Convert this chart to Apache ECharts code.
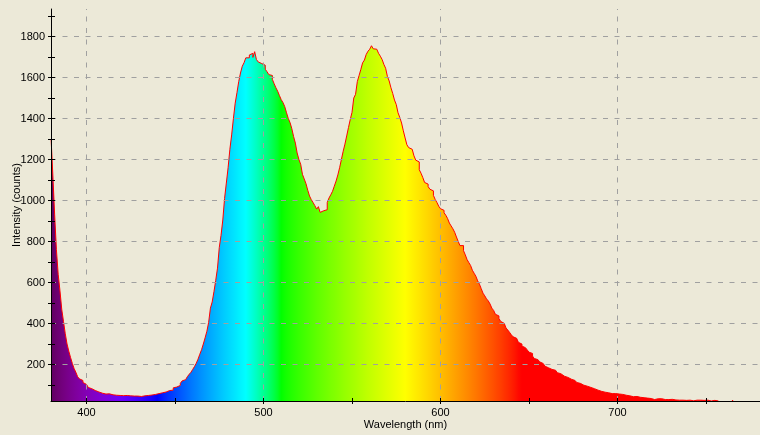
<!DOCTYPE html>
<html>
<head>
<meta charset="utf-8">
<script src="https://cdn.jsdelivr.net/npm/echarts@6/dist/echarts.min.js"></script>
<style>
html,body{margin:0;padding:0;background:#ECE9D8;}
#chart{width:760px;height:435px;}
</style>
</head>
<body>
<div id="chart"></div>
<script>
// ---- data ----
const wavelengthStart = 380;   // nm, first bin
const wavelengthStep = 1;      // nm per bin
const intensity = [
  1300, 1120, 930, 760, 640, 560, 470, 410, 350, 300,
  265, 234, 205, 180, 162, 140, 130, 122, 112, 103,
  96, 88, 82, 77, 73, 68, 66, 63, 60, 58,
  56, 55, 57, 54, 52, 53, 50, 51, 49, 50,
  48, 47, 49, 46, 47, 45, 46, 44, 46, 45,
  44, 46, 47, 48, 49, 50, 51, 53, 54, 56,
  58, 60, 62, 64, 66, 70, 73, 77, 75, 86,
  90, 94, 98, 108, 120, 126, 133, 141, 152, 162,
  176, 190, 206, 226, 250, 272, 300, 330, 362, 405,
  475, 505, 555, 610, 670, 770, 830, 905, 1010, 1085,
  1160, 1250, 1320, 1400, 1475, 1526, 1580, 1622, 1655, 1672,
  1696, 1696, 1710, 1718, 1698, 1726, 1688, 1676, 1668, 1672,
  1660, 1640, 1628, 1614, 1610, 1591, 1570, 1550, 1533, 1512,
  1492, 1478, 1458, 1428, 1400, 1380, 1350, 1312, 1280, 1232,
  1200, 1177, 1128, 1105, 1082, 1050, 1022, 1004, 990, 975,
  958, 970, 942, 950, 950, 955, 990, 1012, 1028, 1045,
  1070, 1095, 1125, 1160, 1200, 1240, 1275, 1315, 1356, 1395,
  1430, 1500, 1518, 1580, 1610, 1640, 1672, 1685, 1712, 1728,
  1738, 1755, 1740, 1738, 1736, 1718, 1704, 1688, 1664, 1645,
  1605, 1583, 1550, 1522, 1490, 1468, 1428, 1405, 1378, 1340,
  1305, 1272, 1258, 1250, 1242, 1218, 1197, 1188, 1150, 1133,
  1112, 1088, 1080, 1068, 1055, 1047, 1025, 1005, 990, 972,
  960, 952, 940, 928, 912, 890, 876, 862, 845, 822,
  800, 780, 780, 755, 735, 712, 697, 683, 660, 645,
  630, 608, 592, 570, 548, 535, 520, 510, 495, 475,
  464, 445, 437, 425, 410, 401, 395, 378, 368, 357,
  345, 335, 328, 320, 308, 300, 290, 282, 277, 271,
  260, 254, 241, 229, 224, 221, 213, 205, 197, 192,
  184, 178, 176, 169, 172, 164, 160, 155, 146, 143,
  140, 137, 137, 128, 127, 122, 116, 112, 108, 106,
  99, 95, 94, 90, 88, 88, 82, 78, 75, 75,
  69, 66, 65, 63, 62, 60, 58, 62, 58, 61,
  56, 54, 54, 51, 50, 50, 47, 46, 43, 42,
  44, 42, 40, 39, 38, 36, 36, 38, 34, 30,
  29, 34, 33, 34, 33, 31, 29, 30, 29, 31,
  30, 26, 27, 26, 26, 28, 26, 26, 25, 26,
  26, 23, 23, 26, 26, 24, 26, 26, 25, 26,
  26, 21, 22, 26, 25, 26, 22, 18, 5, 5,
  5, 5, 5, 5, 5, 26, 5, 5, 5, 5,
  5, 5, 5, 5, 5, 5, 5, 5, 5, 5, 5
];
const xLabelValues = [400, 500, 600, 700];
const xTickValues = [400, 450, 500, 550, 600, 650, 700, 750];
const yLabelValues = [200, 400, 600, 800, 1000, 1200, 1400, 1600, 1800];
const yTickValues = [100, 200, 300, 400, 500, 600, 700, 800, 900, 1000, 1100, 1200, 1300, 1400, 1500, 1600, 1700, 1800, 1900];
const xMin = 379.94, xMax = 780.5, yMin = 21.95, yMax = 1934.2;

// ---- build ----
const points = intensity.map((v, i) => [wavelengthStart + i * wavelengthStep, v]);
const xLast = wavelengthStart + (intensity.length - 1) * wavelengthStep;

function waveColor(w) {
  let r = 0, g = 0, b = 0;
  if (w < 440) { r = -(w - 440) / 60; b = 1; }
  else if (w < 490) { g = (w - 440) / 50; b = 1; }
  else if (w < 510) { g = 1; b = -(w - 510) / 20; }
  else if (w < 580) { r = (w - 510) / 70; g = 1; }
  else if (w < 645) { r = 1; g = -(w - 645) / 65; }
  else { r = 1; }
  const f = w < 420 ? 0.3 + 0.7 * (w - 380) / 40 : 1;
  const c = v => Math.round(255 * Math.pow(v * f, 0.8));
  return 'rgb(' + c(r) + ',' + c(g) + ',' + c(b) + ')';
}
const stops = [];
for (let w = wavelengthStart; w <= xLast; w += 2) {
  stops.push({ offset: (w - wavelengthStart) / (xLast - wavelengthStart), color: waveColor(w) });
}

const FONT = 'Liberation Sans';
const plain = v => String(v);
const GRID_LINE = { color: '#A0A0A0', width: 1, type: [5, 6.5] };
const chart = echarts.init(document.getElementById('chart'), null, { renderer: 'canvas' });
const gridBox = { left: 51, right: 0, top: 9, bottom: 34, containLabel: false, outerBoundsMode: 'none' };
const tickOnlyX = (gi, inside) => ({
  type: 'value', gridIndex: gi, min: xMin, max: xMax, zlevel: 1, z: 10,
  axisLine: { show: false },
  axisTick: { show: true, inside: inside, length: 3, customValues: xTickValues, lineStyle: { color: '#000' } },
  axisLabel: { show: false },
  splitLine: { show: false }
});
const tickOnlyY = (gi, inside) => ({
  type: 'value', gridIndex: gi, min: yMin, max: yMax, zlevel: 1, z: 10,
  axisLine: { show: false },
  axisTick: { show: true, inside: inside, length: inside ? 4 : 3, customValues: yTickValues, lineStyle: { color: '#000' } },
  axisLabel: { show: false },
  splitLine: { show: false }
});
chart.setOption({
  backgroundColor: '#ECE9D8',
  animation: false,
  textStyle: { fontFamily: FONT },
  grid: [Object.assign({}, gridBox), Object.assign({}, gridBox), Object.assign({}, gridBox)],
  xAxis: [{
    type: 'value', gridIndex: 0, min: xMin, max: xMax, zlevel: 1, z: 10,
    name: 'Wavelength (nm)', nameLocation: 'middle', nameGap: 18, nameMoveOverlap: false,
    nameTextStyle: { fontFamily: FONT, fontSize: 11, color: '#000' },
    axisLine: { show: true, onZero: false, lineStyle: { color: '#000', width: 1 } },
    axisTick: { show: false, customValues: xLabelValues },
    axisLabel: { show: true, margin: 6, customValues: xLabelValues, formatter: plain, fontFamily: FONT, fontSize: 11, color: '#000' },
    splitLine: { show: false }
  }, tickOnlyX(1, false), tickOnlyX(2, true)],
  yAxis: [{
    type: 'value', gridIndex: 0, min: yMin, max: yMax, zlevel: 1, z: 10,
    name: 'Intensity (counts)', nameLocation: 'middle', nameGap: 29, nameRotate: 90, nameMoveOverlap: false,
    nameTextStyle: { fontFamily: FONT, fontSize: 11, color: '#000' },
    axisLine: { show: true, onZero: false, lineStyle: { color: '#000', width: 1 } },
    axisTick: { show: false, customValues: yLabelValues },
    axisLabel: { show: true, margin: 6, customValues: yLabelValues, formatter: plain, fontFamily: FONT, fontSize: 11, color: '#000' },
    splitLine: { show: false }
  }, tickOnlyY(1, false), tickOnlyY(2, true)],
  series: [{
    type: 'line',
    xAxisIndex: 0, yAxisIndex: 0,
    data: points,
    step: 'end',
    symbol: 'none',
    clip: true,
    lineStyle: { color: '#FF0000', width: 1 },
    areaStyle: { origin: 'start', opacity: 1, color: new echarts.graphic.LinearGradient(0, 0, 1, 0, stops) },
    z: 2,
    markLine: {
      silent: true,
      animation: false,
      symbol: ['none', 'none'],
      label: { show: false },
      emphasis: { disabled: true },
      lineStyle: GRID_LINE,
      data: yLabelValues.map(v => ({ yAxis: v })).concat(xLabelValues.map(v => ({ xAxis: v })))
    }
  }]
});
</script>
</body>
</html>
